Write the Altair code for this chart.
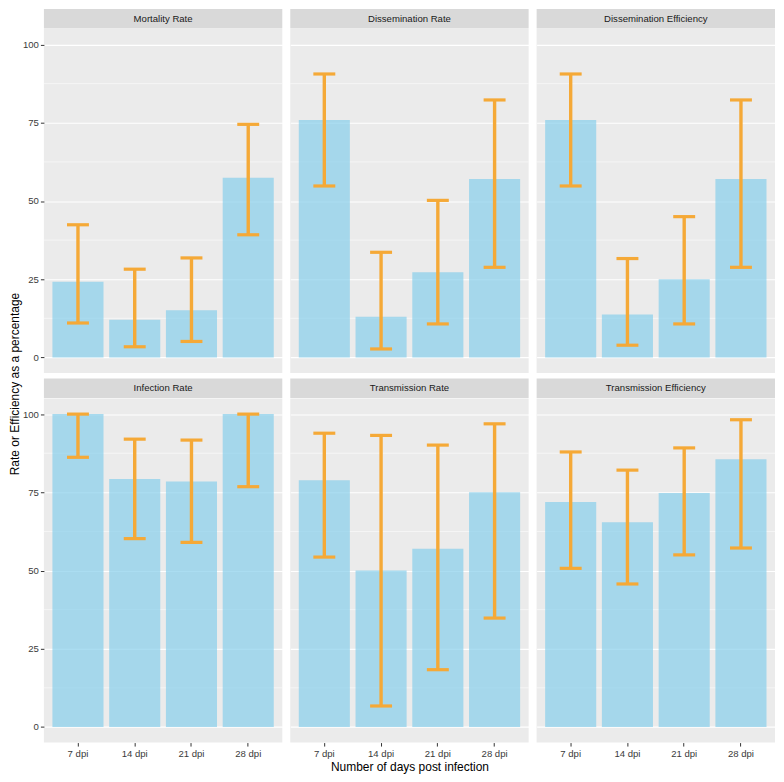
import altair as alt
import pandas as pd

panels = ["Mortality Rate", "Dissemination Rate", "Dissemination Efficiency",
          "Infection Rate", "Transmission Rate", "Transmission Efficiency"]
dpi = ["7 dpi", "14 dpi", "21 dpi", "28 dpi"]

mortality = [24.2, 12.0, 15.1, 57.4]
mortality_lo = [11.0, 3.4, 5.1, 39.2]
mortality_hi = [42.4, 28.2, 31.8, 74.5]

dissem_rate = [75.9, 13.0, 27.2, 57.0]
dissem_rate_lo = [54.8, 2.7, 10.7, 28.8]
dissem_rate_hi = [90.6, 33.6, 50.2, 82.3]

dissem_eff = [75.9, 13.7, 25.0, 57.0]
dissem_eff_lo = [54.8, 3.9, 10.7, 28.8]
dissem_eff_hi = [90.6, 31.6, 45.0, 82.3]

infection = [100.0, 79.3, 78.5, 100.0]
infection_lo = [86.2, 60.2, 59.0, 76.8]
infection_hi = [100.0, 92.0, 91.7, 100.0]

trans_rate = [78.9, 50.0, 57.0, 75.0]
trans_rate_lo = [54.3, 6.7, 18.3, 34.8]
trans_rate_hi = [93.9, 93.2, 90.1, 96.9]

trans_eff = [71.9, 65.4, 74.8, 85.6]
trans_eff_lo = [50.7, 45.7, 55.0, 57.2]
trans_eff_hi = [87.9, 82.1, 89.2, 98.2]

major_ticks = [0, 25, 50, 75, 100]
minor_ticks = [12.5, 37.5, 62.5, 87.5]

y_title = "Rate or Efficiency as a percentage"
x_title = "Number of days post infection"

series = [
    (mortality, mortality_lo, mortality_hi),
    (dissem_rate, dissem_rate_lo, dissem_rate_hi),
    (dissem_eff, dissem_eff_lo, dissem_eff_hi),
    (infection, infection_lo, infection_hi),
    (trans_rate, trans_rate_lo, trans_rate_hi),
    (trans_eff, trans_eff_lo, trans_eff_hi),
]

FONT = "Liberation Sans"
W = 239
H = 345
SH = 19.5
BAR_COLOR = "#87CEEB"
ERR_COLOR = "#F5A937"

yscale = alt.Scale(domain=[-5, 105], nice=False, zero=False)
xscale = alt.Scale(paddingInner=0.1, paddingOuter=0.15)


def make_panel(i):
    vals, lo, hi = series[i]
    df = pd.DataFrame({"dpi": dpi, "rate": vals, "lo": lo, "hi": hi})
    row, col = divmod(i, 3)
    bottom = row == 1
    left = col == 0
    if bottom and col == 1:
        xaxis = alt.Axis(title=x_title, labels=True, ticks=True, labelAngle=0,
                         bandPosition=0.5, titlePadding=4)
    else:
        xaxis = alt.Axis(title=None, labels=bottom, ticks=bottom, labelAngle=0,
                         bandPosition=0.5)
    yaxis = alt.Axis(title=None, values=major_ticks, labels=left, ticks=left)
    x = alt.X("dpi:N", sort=dpi, scale=xscale, axis=xaxis)

    minor = alt.Chart(pd.DataFrame({"m": minor_ticks})).mark_rule(
        color="white", strokeWidth=0.55
    ).encode(y=alt.Y("m:Q", scale=yscale, axis=yaxis))

    base = alt.Chart(df)
    bars = base.mark_bar(color=BAR_COLOR, opacity=0.7).encode(
        x=x, y=alt.Y("rate:Q", scale=yscale, axis=yaxis), y2=alt.datum(0)
    )
    err = base.mark_rule(color=ERR_COLOR, strokeWidth=3.4).encode(
        x=x, y=alt.Y("lo:Q", scale=yscale, axis=yaxis), y2="hi:Q"
    )
    cap_lo = base.mark_tick(color=ERR_COLOR, thickness=3.2, size=22, opacity=1).encode(
        x=x, y=alt.Y("lo:Q", scale=yscale, axis=yaxis)
    )
    cap_hi = base.mark_tick(color=ERR_COLOR, thickness=3.2, size=22, opacity=1).encode(
        x=x, y=alt.Y("hi:Q", scale=yscale, axis=yaxis)
    )
    panel = alt.layer(minor, bars, err, cap_lo, cap_hi).properties(
        width=W, height=H, view=alt.ViewBackground(fill="#EBEBEB", strokeWidth=0)
    )

    strip = alt.Chart(pd.DataFrame({"p": [panels[i]]})).mark_text(
        font=FONT, fontSize=9.6, color="#1A1A1A"
    ).encode(
        text="p:N", x=alt.value(W / 2), y=alt.value(SH / 2)
    ).properties(width=W, height=SH,
                 view=alt.ViewBackground(fill="#D9D9D9", strokeWidth=0))

    return alt.vconcat(strip, panel, spacing=0)


row1 = alt.hconcat(*[make_panel(i) for i in range(3)], spacing=6)
row2 = alt.hconcat(*[make_panel(i) for i in range(3, 6)], spacing=6)
grid = alt.vconcat(row1, row2, spacing=5.5)

title_chart = alt.Chart(pd.DataFrame({"t": [y_title]})).mark_text(
    font=FONT, fontSize=12, color="black", angle=270
).encode(
    text="t:N", x=alt.value(7), y=alt.value(376)
).properties(width=14, height=700,
             view=alt.ViewBackground(fill="white", strokeWidth=0))

chart = alt.hconcat(title_chart, grid, spacing=0, padding=0).configure_axis(
    labelFont=FONT, titleFont=FONT, labelFontSize=9.6, labelColor="#3A3A3A",
    tickColor="#333333", tickSize=3.5, tickWidth=1, labelPadding=2,
    gridColor="white", gridWidth=1.1, domain=False,
    titleFontWeight="normal", titleColor="black", titleFontSize=12,
).configure_view(strokeWidth=0)

chart.save("out.html", embed_options={"renderer": "svg", "actions": False})
